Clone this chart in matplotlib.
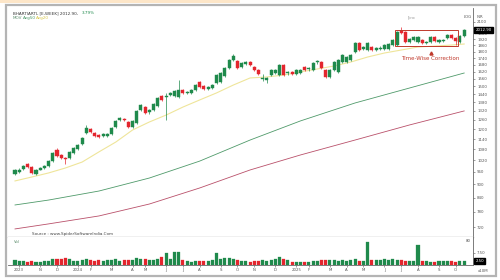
import matplotlib
matplotlib.use("Agg")
import matplotlib.pyplot as plt
from matplotlib.patches import Rectangle
from matplotlib.ticker import FixedLocator, NullLocator, NullFormatter
from matplotlib.transforms import blended_transform_factory

W, H = 500, 280

# weekly candles, Oct 2023 .. Oct 2025
opens = [950, 960, 975, 1001, 985, 950, 972, 980, 990, 1016,
         1077, 1049, 1030, 1033, 1060, 1082, 1111, 1177, 1201, 1177,
         1164, 1160, 1158, 1171, 1214, 1259, 1266, 1246, 1214, 1240,
         1327, 1348, 1310, 1327, 1355, 1427, 1420, 1438, 1427, 1420,
         1472, 1452, 1450, 1472, 1535, 1504, 1482, 1488, 1527, 1535,
         1584, 1652, 1722, 1713, 1660, 1690, 1704, 1660, 1635, 1560,
         1555, 1592, 1609, 1592, 1678, 1605, 1618, 1601, 1609, 1660,
         1640, 1635, 1700, 1704, 1635, 1576, 1635, 1618, 1704, 1704,
         1722, 1796, 1882, 1820, 1814, 1843, 1818, 1820, 1824, 1824,
         1862, 1862, 2004, 1993, 1892, 1912, 1892, 1912, 1885, 1892,
         1942, 1895, 1902, 1932, 1962, 1932, 1892, 1952]
highs = [975, 978, 995, 1008, 990, 974, 983, 993, 1020, 1066,
         1085, 1055, 1038, 1070, 1092, 1110, 1152, 1227, 1210, 1183,
         1170, 1175, 1177, 1214, 1259, 1278, 1272, 1253, 1259, 1327,
         1369, 1355, 1334, 1376, 1420, 1435, 1450, 1455, 1472, 1552,
         1480, 1465, 1480, 1518, 1543, 1511, 1502, 1518, 1601, 1618,
         1660, 1731, 1779, 1722, 1704, 1710, 1713, 1669, 1643, 1601,
         1576, 1643, 1643, 1687, 1687, 1626, 1626, 1643, 1643, 1669,
         1656, 1704, 1718, 1713, 1643, 1643, 1713, 1731, 1777, 1758,
         1777, 1892, 1892, 1852, 1892, 1852, 1840, 1848, 1870, 1880,
         1922, 2004, 2045, 2004, 1932, 1952, 1952, 1922, 1902, 1952,
         1952, 1920, 1918, 1972, 1972, 1942, 1962, 2024]
lows = [945, 955, 970, 980, 948, 945, 968, 976, 986, 1012,
        1038, 1028, 1001, 1028, 1056, 1078, 1105, 1171, 1177, 1150,
        1146, 1152, 1152, 1164, 1208, 1253, 1250, 1208, 1208, 1233,
        1320, 1300, 1300, 1320, 1348, 1390, 1259, 1430, 1420, 1412,
        1442, 1445, 1442, 1465, 1488, 1472, 1475, 1480, 1520, 1527,
        1576, 1643, 1713, 1643, 1652, 1680, 1669, 1626, 1592, 1543,
        1527, 1584, 1601, 1584, 1584, 1592, 1592, 1592, 1601, 1626,
        1630, 1626, 1690, 1643, 1568, 1568, 1626, 1609, 1695, 1695,
        1713, 1786, 1805, 1810, 1805, 1805, 1808, 1810, 1814, 1814,
        1852, 1852, 1975, 1882, 1882, 1902, 1882, 1872, 1872, 1882,
        1892, 1885, 1895, 1922, 1922, 1862, 1882, 1942]
closes = [970, 970, 990, 985, 955, 970, 978, 988, 1016, 1060,
          1043, 1033, 1025, 1066, 1088, 1105, 1146, 1208, 1183, 1158,
          1152, 1168, 1171, 1208, 1253, 1272, 1258, 1214, 1253, 1320,
          1362, 1306, 1327, 1369, 1412, 1398, 1430, 1448, 1465, 1472,
          1450, 1457, 1472, 1511, 1496, 1480, 1494, 1511, 1592, 1609,
          1652, 1722, 1758, 1652, 1695, 1700, 1678, 1635, 1601, 1570,
          1565, 1635, 1635, 1678, 1592, 1615, 1601, 1635, 1635, 1635,
          1648, 1695, 1710, 1652, 1576, 1635, 1704, 1722, 1768, 1749,
          1768, 1882, 1814, 1840, 1882, 1814, 1830, 1838, 1862, 1872,
          1912, 1993, 1983, 1892, 1922, 1942, 1942, 1882, 1892, 1942,
          1902, 1910, 1910, 1962, 1932, 1902, 1952, 2012.9]
volumes = [3.1, 2.5, 2.5, 1.9, 2.5, 1.9, 1.9, 2.5, 2.5, 3.8,
           3.8, 3.8, 4.4, 3.8, 2.5, 2.5, 3.1, 3.8, 3.1, 2.5,
           3.1, 2.5, 3.1, 3.1, 3.8, 2.5, 3.1, 3.1, 3.1, 4.4,
           3.8, 3.8, 3.1, 3.1, 3.8, 5.0, 7.5, 3.8, 8.1, 8.1,
           3.1, 2.5, 1.9, 2.5, 2.5, 2.5, 2.5, 3.1, 7.5, 3.8,
           4.4, 4.4, 3.8, 3.1, 2.5, 2.5, 1.9, 2.5, 2.5, 3.1,
           2.5, 3.1, 3.8, 5.0, 3.8, 3.1, 1.9, 1.9, 1.9, 1.9,
           1.9, 2.5, 2.5, 3.1, 3.1, 3.1, 3.1, 2.5, 3.1, 2.5,
           3.1, 3.8, 2.5, 2.5, 13.8, 3.1, 3.1, 3.1, 3.8, 3.1,
           3.8, 3.1, 3.1, 2.5, 2.5, 2.5, 11.9, 2.5, 2.5, 1.9,
           1.9, 2.5, 2.5, 2.5, 2.5, 1.9, 2.5, 2.5]

# moving averages
ma20_idx = [0, 4, 8, 12, 16, 20, 24, 28, 32, 36, 40, 44, 48, 52,
            56, 60, 64, 68, 72, 76, 80, 84, 88, 92, 96, 100, 104, 107]
ma20 = [916, 935, 955, 980, 1011, 1066, 1122, 1195, 1246, 1292, 1347, 1398, 1450, 1511,
        1568, 1576, 1592, 1618, 1643, 1669, 1704, 1749, 1786, 1814, 1843, 1852, 1862, 1872]
ma_long_idx = [0, 8, 20, 32, 44, 56, 68, 81, 94, 107]
ma50 = [808, 829, 869, 930, 1016, 1134, 1253, 1376, 1488, 1609]
ma100 = [713, 732, 763, 812, 883, 970, 1049, 1134, 1227, 1320]

month_pos = [1, 6, 10, 15, 18, 23, 28, 31, 36, 40, 44, 49, 53,
             57, 62, 67, 70, 75, 79, 83, 88, 92, 96, 101, 105]
month_labels = ["2023", "N", "D", "2024", "F", "M", "A", "M", "J", "J", "A", "S", "O",
                "N", "D", "2025", "F", "M", "A", "M", "J", "J", "A", "S", "O"]
price_ticks = [720, 780, 840, 900, 960, 1020, 1080, 1140, 1200, 1260, 1320, 1380,
               1440, 1500, 1560, 1620, 1680, 1740, 1800, 1860, 1920, 1980, 2040, 2100]

GREEN = "#1f8a4c"
RED = "#e3262e"
GRAY = "#555555"


def fx(x):
    return x / W


def fy(y):
    return 1 - y / H


fig = plt.figure(figsize=(5, 2.8), dpi=100)
fig.patch.set_facecolor("white")

# peach strip and outer frame
fig.add_artist(Rectangle((0, fy(3)), fx(240), 3 / H, transform=fig.transFigure,
                         facecolor="#fde6c8", edgecolor="none"))
fig.add_artist(Rectangle((fx(6), fy(276)), fx(490), 271 / H, transform=fig.transFigure,
                         facecolor="none", edgecolor="#b4b4b4", lw=1.6))

ax = fig.add_axes([fx(8), fy(237), fx(465), 229 / H])
vax = fig.add_axes([fx(8), fy(265), fx(465), 28 / H])

n = len(closes)
x = list(range(n))
cols = [GREEN if c >= o else RED for o, c in zip(opens, closes)]

ax.set_yscale("log")
ax.vlines(x, lows, highs, colors=cols, lw=0.5, zorder=3)
ax.bar(x, [max(abs(c - o), 1.5) for o, c in zip(opens, closes)], 0.72,
       bottom=[min(o, c) for o, c in zip(opens, closes)], color=cols,
       edgecolor=cols, lw=0.3, zorder=4)

ax.plot(ma20_idx, ma20, color="#efe59a", lw=0.8, zorder=2)
ax.plot(ma_long_idx, ma50, color="#4f9a6a", lw=0.6, zorder=2)
ax.plot(ma_long_idx, ma100, color="#b9506a", lw=0.6, zorder=2)

ax.set_xlim(-1.67, 109.1)
ax.set_ylim(683.6, 2259)
ax.yaxis.tick_right()
ax.yaxis.set_major_locator(FixedLocator(price_ticks))
ax.yaxis.set_minor_locator(NullLocator())
ax.yaxis.set_minor_formatter(NullFormatter())
# the 2040 label sits under the last-price box
ax.set_yticklabels(["" if t == 2040 else str(t) for t in price_ticks])
ax.tick_params(axis="y", labelsize=2.8, length=1.5, width=0.4, pad=1.5, colors=GRAY)
ax.set_xticks([])
for s in ["left", "top"]:
    ax.spines[s].set_visible(False)
ax.spines["bottom"].set_color("#b4b4b4")
ax.spines["bottom"].set_linewidth(1.0)
ax.spines["right"].set_color("#666666")
ax.spines["right"].set_linewidth(0.6)

# time-wise correction box
ax.add_patch(Rectangle((90.6, 1855), 15, 155, facecolor="none",
                       edgecolor="#c0392b", lw=0.7, zorder=5))
ax.plot([99], [1790], marker="^", color="#c0392b", ms=2.2, zorder=5)
ax.text(98.8, 1735, "Time-Wise Correction", color="#c0392b", fontsize=4,
        ha="center", va="center", zorder=5)
ax.text(94.5, 2150, "[>o", color="#888888", fontsize=3, ha="center", va="center")

trans = blended_transform_factory(ax.transAxes, ax.transData)
ax.text(1.005, closes[-1], f"{closes[-1]:.2f}", transform=trans, fontsize=2.8,
        color="white", ha="left", va="center", zorder=6,
        bbox=dict(boxstyle="square,pad=0.3", fc="black", ec="black"))

# volume
vax.bar(x, volumes, 0.72, color=cols, edgecolor=cols, lw=0.2)
vax.set_xlim(-1.67, 109.1)
vax.set_ylim(0, 16.9)
vax.yaxis.tick_right()
vax.set_yticks([7.5])
vax.set_yticklabels(["7.50"])
vax.set_xticks(month_pos)
vax.set_xticklabels(month_labels)
vax.tick_params(axis="both", labelsize=2.8, length=1.5, width=0.4, pad=1, colors=GRAY)
vax.spines["left"].set_visible(False)
vax.spines["top"].set_visible(False)
vax.spines["right"].set_color("#666666")
vax.spines["right"].set_linewidth(0.6)
vax.spines["bottom"].set_color("#666666")
vax.spines["bottom"].set_linewidth(0.6)
vax.text(1.005, volumes[-1], f"{volumes[-1]:.2f}", transform=blended_transform_factory(vax.transAxes, vax.transData),
         fontsize=2.8, color="white", ha="left", va="center",
         bbox=dict(boxstyle="square,pad=0.3", fc="black", ec="black"))

# header and labels
fig.text(fx(13), fy(13), "BHARTIARTL [E,WEEK] 2012.90,", fontsize=3, color="#333333", va="center")
fig.text(fx(82), fy(13), "3.79%", fontsize=3, color=GREEN, va="center")
fig.text(fx(13), fy(18), "MOV", fontsize=3, color="#5f8f6f", va="center")
fig.text(fx(23), fy(18), "Avg50", fontsize=3, color="#4f9a6a", va="center")
fig.text(fx(36), fy(18), "Avg20", fontsize=3, color="#d8c84a", va="center")
fig.text(fx(464), fy(17), "LOG", fontsize=2.8, color=GRAY, va="center")
fig.text(fx(477), fy(17), "INR", fontsize=2.8, color=GRAY, va="center")
fig.text(fx(32), fy(234), "Source : www.SpiderSoftwareIndia.Com", fontsize=3, color="#444444", va="center")
fig.text(fx(14), fy(242), "Vol", fontsize=2.8, color="#5f8f6f", va="center")
fig.text(fx(466), fy(241), "80", fontsize=2.8, color=GRAY, va="center")
fig.text(fx(478), fy(271), "x10M", fontsize=2.8, color=GRAY, va="center")

fig.savefig("out.png", dpi=100)
